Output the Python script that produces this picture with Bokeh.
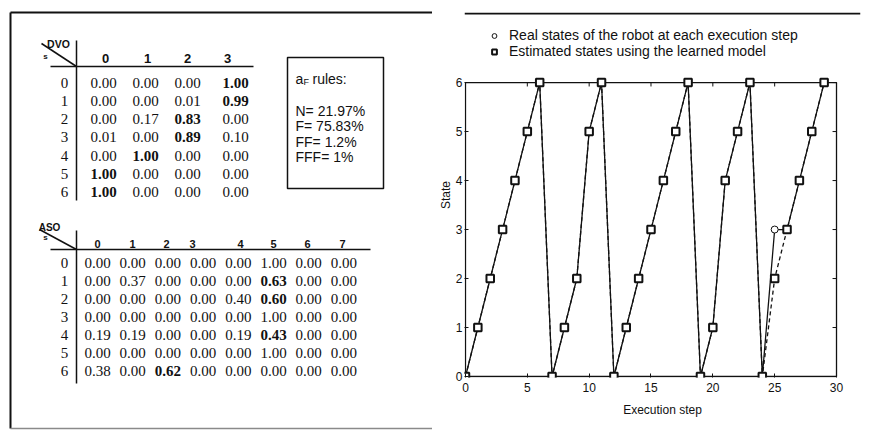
from bokeh.plotting import figure
from bokeh.layouts import row
from bokeh.models import Range1d, FixedTicker, Legend, LegendItem, Span
from bokeh.core.properties import value
from bokeh.embed import file_html
from bokeh.resources import INLINE

# ---------------- data ----------------
steps = list(range(30))
real_states = [0, 1, 2, 3, 4, 5, 6, 0, 1, 2, 5, 6, 0, 1, 2, 3, 4, 5, 6, 0, 1, 4, 5, 6, 0, 3, 3, 4, 5, 6]
est_states = [0, 1, 2, 3, 4, 5, 6, 0, 1, 2, 5, 6, 0, 1, 2, 3, 4, 5, 6, 0, 1, 4, 5, 6, 0, 2, 3, 4, 5, 6]
x_ticks = [0, 5, 10, 15, 20, 25, 30]
y_ticks = [0, 1, 2, 3, 4, 5, 6]
legend_labels = ["Real states of the robot at each execution step",
                 "Estimated states using the learned model"]

dvo_cols = ["0", "1", "2", "3"]
dvo_rows = ["0", "1", "2", "3", "4", "5", "6"]
dvo_vals = [[0.00, 0.00, 0.00, 1.00],
            [0.00, 0.00, 0.01, 0.99],
            [0.00, 0.17, 0.83, 0.00],
            [0.01, 0.00, 0.89, 0.10],
            [0.00, 1.00, 0.00, 0.00],
            [1.00, 0.00, 0.00, 0.00],
            [1.00, 0.00, 0.00, 0.00]]
dvo_bold = [(0, 3), (1, 3), (2, 2), (3, 2), (4, 1), (5, 0), (6, 0)]

aso_cols = ["0", "1", "2", "3", "4", "5", "6", "7"]
aso_rows = ["0", "1", "2", "3", "4", "5", "6"]
aso_vals = [[0.00, 0.00, 0.00, 0.00, 0.00, 1.00, 0.00, 0.00],
            [0.00, 0.37, 0.00, 0.00, 0.00, 0.63, 0.00, 0.00],
            [0.00, 0.00, 0.00, 0.00, 0.40, 0.60, 0.00, 0.00],
            [0.00, 0.00, 0.00, 0.00, 0.00, 1.00, 0.00, 0.00],
            [0.19, 0.19, 0.00, 0.00, 0.19, 0.43, 0.00, 0.00],
            [0.00, 0.00, 0.00, 0.00, 0.00, 1.00, 0.00, 0.00],
            [0.38, 0.00, 0.62, 0.00, 0.00, 0.00, 0.00, 0.00]]
aso_bold = [(1, 5), (2, 5), (4, 5), (6, 2)]

rule_names = ["N", "F", "FF", "FFF"]
rule_pcts = ["21.97%", "75.83%", "1.2%", "1%"]

# ---------------- layout constants ----------------
INK = "#111111"
SERIF = "Liberation Serif"
SANS = "Liberation Sans"
W1, H = 432, 430
WR = 880 - W1

left = figure(width=W1, height=H, x_range=Range1d(0, W1), y_range=Range1d(H, 0),
              toolbar_location=None, output_backend="svg", min_border=0,
              x_axis_location=None, y_axis_location=None)
left.grid.visible = False
left.outline_line_color = None
left.frame_align = False


def put_text(fig, xs, ys, texts, font, size, style="normal", align="center", baseline="middle"):
    fig.text(x=xs, y=ys, text=texts, text_font=value(font), text_font_size=value(f"{size}px"),
             text_font_style=style, text_align=align, text_baseline=baseline, text_color=INK)


def put_lines(fig, x0, y0, x1, y1, w=1.5, color=INK):
    fig.segment(x0=x0, y0=y0, x1=x1, y1=y1, line_color=color, line_width=w)


def table(fig, cols, rows, vals, bold, col_x, head_x, row_y0, row_dy, head_y, hfont, vsize):
    nx, ny, nt, bx, by, bt = [], [], [], [], [], []
    for r, rv in enumerate(vals):
        for c, v in enumerate(rv):
            (bx if (r, c) in bold else nx).append(col_x[c])
            (by if (r, c) in bold else ny).append(row_y0 + row_dy * r)
            (bt if (r, c) in bold else nt).append(f"{v:.2f}")
    put_text(fig, nx, ny, nt, SERIF, vsize)
    put_text(fig, bx, by, bt, SERIF, vsize, style="bold")
    put_text(fig, [64] * len(rows), [row_y0 + row_dy * r for r in range(len(rows))], rows, SERIF, vsize)
    put_text(fig, head_x, [head_y] * len(cols), cols, SANS, hfont, style="bold")


# DVO table
table(left, dvo_cols, dvo_rows, dvo_vals, dvo_bold,
      [103, 145, 187, 235], [105, 147, 187, 227], 82, 18.3, 58, 13, 15)
put_lines(left, [76, 50, 41], [40, 66, 43], [76, 253, 76], [200, 66, 66])
put_text(left, [58], [43], ["DVO"], SANS, 10.5, style="bold")
put_text(left, [45], [56], ["s"], SANS, 8, style="bold")

# ASO table
table(left, aso_cols, aso_rows, aso_vals, aso_bold,
      [97 + 35.2 * c for c in range(8)], [97, 132, 166, 192, 240, 273, 307, 342], 262, 18.1, 243, 11, 15)
put_lines(left, [76, 50, 39], [230, 249, 229], [76, 370, 76], [383, 249, 249])
put_text(left, [49], [227], ["ASO"], SANS, 10, style="bold")
put_text(left, [45], [237], ["s"], SANS, 8, style="bold")

# a_F rules box
left.quad(left=[287], right=[383], top=[57], bottom=[188], fill_color=None, line_color=INK, line_width=1.5)
put_text(left, [295], [78], ["a"], SANS, 14, align="left")
put_text(left, [303], [81], ["F"], SANS, 9, align="left")
put_text(left, [312], [78], ["rules:"], SANS, 14, align="left")
put_text(left, [295] * 4, [110 + 15.5 * i for i in range(4)],
         [f"{n}= {p}" for n, p in zip(rule_names, rule_pcts)], SANS, 14, align="left")

# scan frame lines
put_lines(left, [10, 10], [12, 12], [W1, 10], [12, 428], w=2)
put_lines(left, [10], [428], [W1], [428], w=1.5, color="#8a8a8a")

# ---------------- chart ----------------
xr = Range1d(-0.08, 31.94)
yr = Range1d(-0.02, 7.43)
p = figure(width=WR, height=H, x_range=xr, y_range=yr, toolbar_location=None, output_backend="svg",
           min_border_left=32, min_border_right=WR - 32 - 396, min_border_top=12, min_border_bottom=H - 377)
p.frame_align = False
p.grid.visible = False
p.outline_line_color = None
p.xaxis.ticker = FixedTicker(ticks=x_ticks)
p.yaxis.ticker = FixedTicker(ticks=y_ticks)
for ax in p.axis:
    ax.axis_line_color = None
    ax.major_tick_in = 4
    ax.major_tick_out = 0
    ax.minor_tick_in = 0
    ax.minor_tick_out = 0
    ax.major_tick_line_color = INK
    ax.major_label_text_font = SANS
    ax.major_label_text_font_size = "12px"
    ax.major_label_text_color = INK
    ax.axis_label_text_font = SANS
    ax.axis_label_text_font_size = "12px"
    ax.axis_label_text_font_style = "normal"
    ax.axis_label_text_color = INK
p.xaxis.axis_label = "Execution step"
p.yaxis.axis_label = "State"
p.xaxis.major_label_standoff = 5
p.xaxis.axis_label_standoff = 8
p.yaxis.major_label_standoff = 2
p.yaxis.axis_label_standoff = 0

# box and top/right ticks
p.quad(left=[x_ticks[0]], right=[x_ticks[-1]], bottom=[y_ticks[0]], top=[y_ticks[-1]],
       fill_color=None, line_color=INK, line_width=1.3)
p.segment(x0=x_ticks, y0=[y_ticks[-1]] * len(x_ticks), x1=x_ticks, y1=[y_ticks[-1] - 0.08] * len(x_ticks),
          line_color=INK, line_width=1)
p.segment(x0=[x_ticks[-1]] * len(y_ticks), y0=y_ticks, x1=[x_ticks[-1] - 0.32] * len(y_ticks), y1=y_ticks,
          line_color=INK, line_width=1)

p.line(steps, est_states, line_color=INK, line_width=1.3, line_dash="4 3")
p.line(steps, real_states, line_color=INK, line_width=1.3)
circ = p.scatter(steps, real_states, marker="circle", size=7, fill_color="white", line_color=INK, line_width=1)
sq = p.scatter(steps, est_states, marker="square", size=7.5, fill_color="white", line_color=INK, line_width=2)

legend = Legend(items=[LegendItem(label=legend_labels[0], renderers=[circ]),
                       LegendItem(label=legend_labels[1], renderers=[sq])],
                location=(24, 318), orientation="vertical", padding=0, margin=0, spacing=0,
                glyph_height=15, glyph_width=12, label_height=15, label_standoff=9,
                background_fill_alpha=0, border_line_color=None,
                label_text_font=SANS, label_text_font_size="14px", label_text_color=INK)
p.add_layout(legend)
p.add_layout(Span(location=yr.end - 0.02, dimension="width", line_color=INK, line_width=2))

layout = row(left, p)
open("out.html", "w").write(file_html(layout, INLINE))
